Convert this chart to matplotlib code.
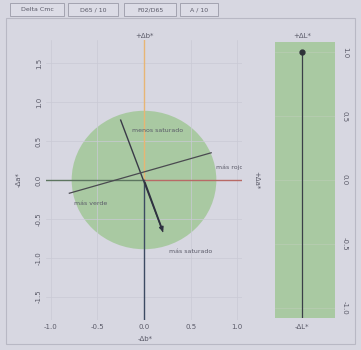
import matplotlib
matplotlib.use("Agg")
import matplotlib.pyplot as plt
from matplotlib.patches import Ellipse, Rectangle

# Tabs along the top of the panel
tab_labels = ["Delta Cmc", "D65 / 10", "F02/D65", "A / 10"]

# a*b* plane (main plot)
x_ticks = [-1.0, -0.5, 0.0, 0.5, 1.0]
y_ticks = [1.5, 1.0, 0.5, 0.0, -0.5, -1.0, -1.5]
tol_width, tol_height = 1.55, 1.78          # tolerance ellipse
chroma_x = [-0.25, 0.2]                     # menos saturado -> más saturado
chroma_y = [0.77, -0.66]
hue_x = [-0.8, 0.72]                        # más verde -> más rojo
hue_y = [-0.17, 0.35]
sample_da, sample_db = 0.215, -0.70         # sample vector

# L* bar (right plot)
l_ticks = [1.0, 0.5, 0.0, -0.5, -1.0]
sample_dl = 1.0

bg = "#d7d7e1"
green = "#a9c9a2"
txt = "#5a5a68"

fig = plt.figure(figsize=(3.61, 3.5), dpi=100)
fig.patch.set_facecolor(bg)

# panel frame
fig.patches.append(Rectangle((6 / 361, 6 / 350), 349 / 361, 326 / 350,
                             transform=fig.transFigure, fill=False,
                             edgecolor="#b8b8c4", linewidth=0.8))

# tabs
tab_x = [10, 68, 124, 180]
tab_w = [54, 50, 52, 38]
for lab, x0, w in zip(tab_labels, tab_x, tab_w):
    fig.patches.append(Rectangle((x0 / 361, (350 - 16) / 350), w / 361, 13 / 350,
                                 transform=fig.transFigure, facecolor="#dcdce6",
                                 edgecolor="#9a9aa8", linewidth=0.6))
    fig.text((x0 + w / 2) / 361, (350 - 9.5) / 350, lab, fontsize=4.5,
             color=txt, ha="center", va="center")

# ---- main a*b* plot ----
ax = fig.add_axes([46 / 361, 30 / 350, 196 / 361, 280 / 350])
ax.set_facecolor(bg)
ax.set_xlim(-1.05, 1.05)
ax.set_ylim(-1.8, 1.8)
for s in ax.spines.values():
    s.set_visible(False)
ax.set_xticks(x_ticks)
ax.set_yticks(y_ticks)
ax.set_xticklabels([f"{v:.1f}" for v in x_ticks], fontsize=5, color=txt)
ax.set_yticklabels([f"{v:.1f}" for v in y_ticks], fontsize=5, color=txt,
                   rotation=90, va="center")
ax.tick_params(length=0, pad=3)
ax.grid(color="#cacad5", linewidth=0.5)

ax.add_patch(Ellipse((0, 0), tol_width, tol_height, facecolor=green,
                     edgecolor="none", zorder=1))

# coloured axes
ax.plot([0, 0], [0, 1.8], color="#e7b574", lw=1.0, zorder=2)
ax.plot([0, 1.05], [0, 0], color="#b86a66", lw=1.0, zorder=2)
ax.plot([-1.05, 0], [0, 0], color="#5d7560", lw=1.0, zorder=2)
ax.plot([0, 0], [-1.8, 0], color="#3c4a62", lw=1.0, zorder=2)

ax.plot(chroma_x, chroma_y, color="#3a3a48", lw=1.0, zorder=3)
ax.plot(hue_x, hue_y, color="#4a4a50", lw=0.9, zorder=3)
ax.annotate("", xy=(sample_da, sample_db), xytext=(0, 0),
            arrowprops=dict(arrowstyle="-|>", color="#2e3140", lw=1.2,
                            mutation_scale=6), zorder=4)

ax.text(-0.13, 0.64, "menos saturado", fontsize=4.5, color=txt, va="center")
ax.text(0.77, 0.17, "más rojo", fontsize=4.5, color=txt, va="center", clip_on=True)
ax.text(-0.75, -0.30, "más verde", fontsize=4.5, color=txt, va="center")
ax.text(0.27, -0.92, "más saturado", fontsize=4.5, color=txt, va="center")

ax.text(0.5, 1.005, "+Δb*", transform=ax.transAxes, fontsize=5, color=txt,
        ha="center", va="bottom")
fig.text(145 / 361, 11 / 350, "-Δb*", fontsize=5, color=txt, ha="center", va="center")
fig.text(19 / 361, 170 / 350, "-Δa*", fontsize=5, color=txt, ha="center",
         va="center", rotation=90)
fig.text(256 / 361, 170 / 350, "+Δa*", fontsize=5, color=txt, ha="center",
         va="center", rotation=270)

# ---- L* bar ----
bx = fig.add_axes([275 / 361, 32 / 350, 60 / 361, 276 / 350])
bx.set_facecolor(green)
bx.set_xlim(-1, 1)
bx.set_ylim(-1.08, 1.08)
for s in bx.spines.values():
    s.set_visible(False)
bx.set_xticks([])
bx.set_yticks(l_ticks)
bx.yaxis.tick_right()
bx.set_yticklabels([f"{v:.1f}" for v in l_ticks], fontsize=5, color=txt,
                   rotation=270, va="center")
bx.tick_params(length=0, pad=5)
bx.grid(axis="y", color="#b9cdb4", linewidth=0.5)
bx.plot([-0.1, -0.1], [-1.08, sample_dl], color="#3a3f48", lw=0.9)
bx.plot([-0.1], [sample_dl], "o", color="#2e3238", markersize=3.5)

fig.text(302 / 361, 314 / 350, "+ΔL*", fontsize=5, color=txt, ha="center", va="center")
fig.text(302 / 361, 23 / 350, "-ΔL*", fontsize=5, color=txt, ha="center", va="center")

fig.savefig("out.png", dpi=100, facecolor=bg)
